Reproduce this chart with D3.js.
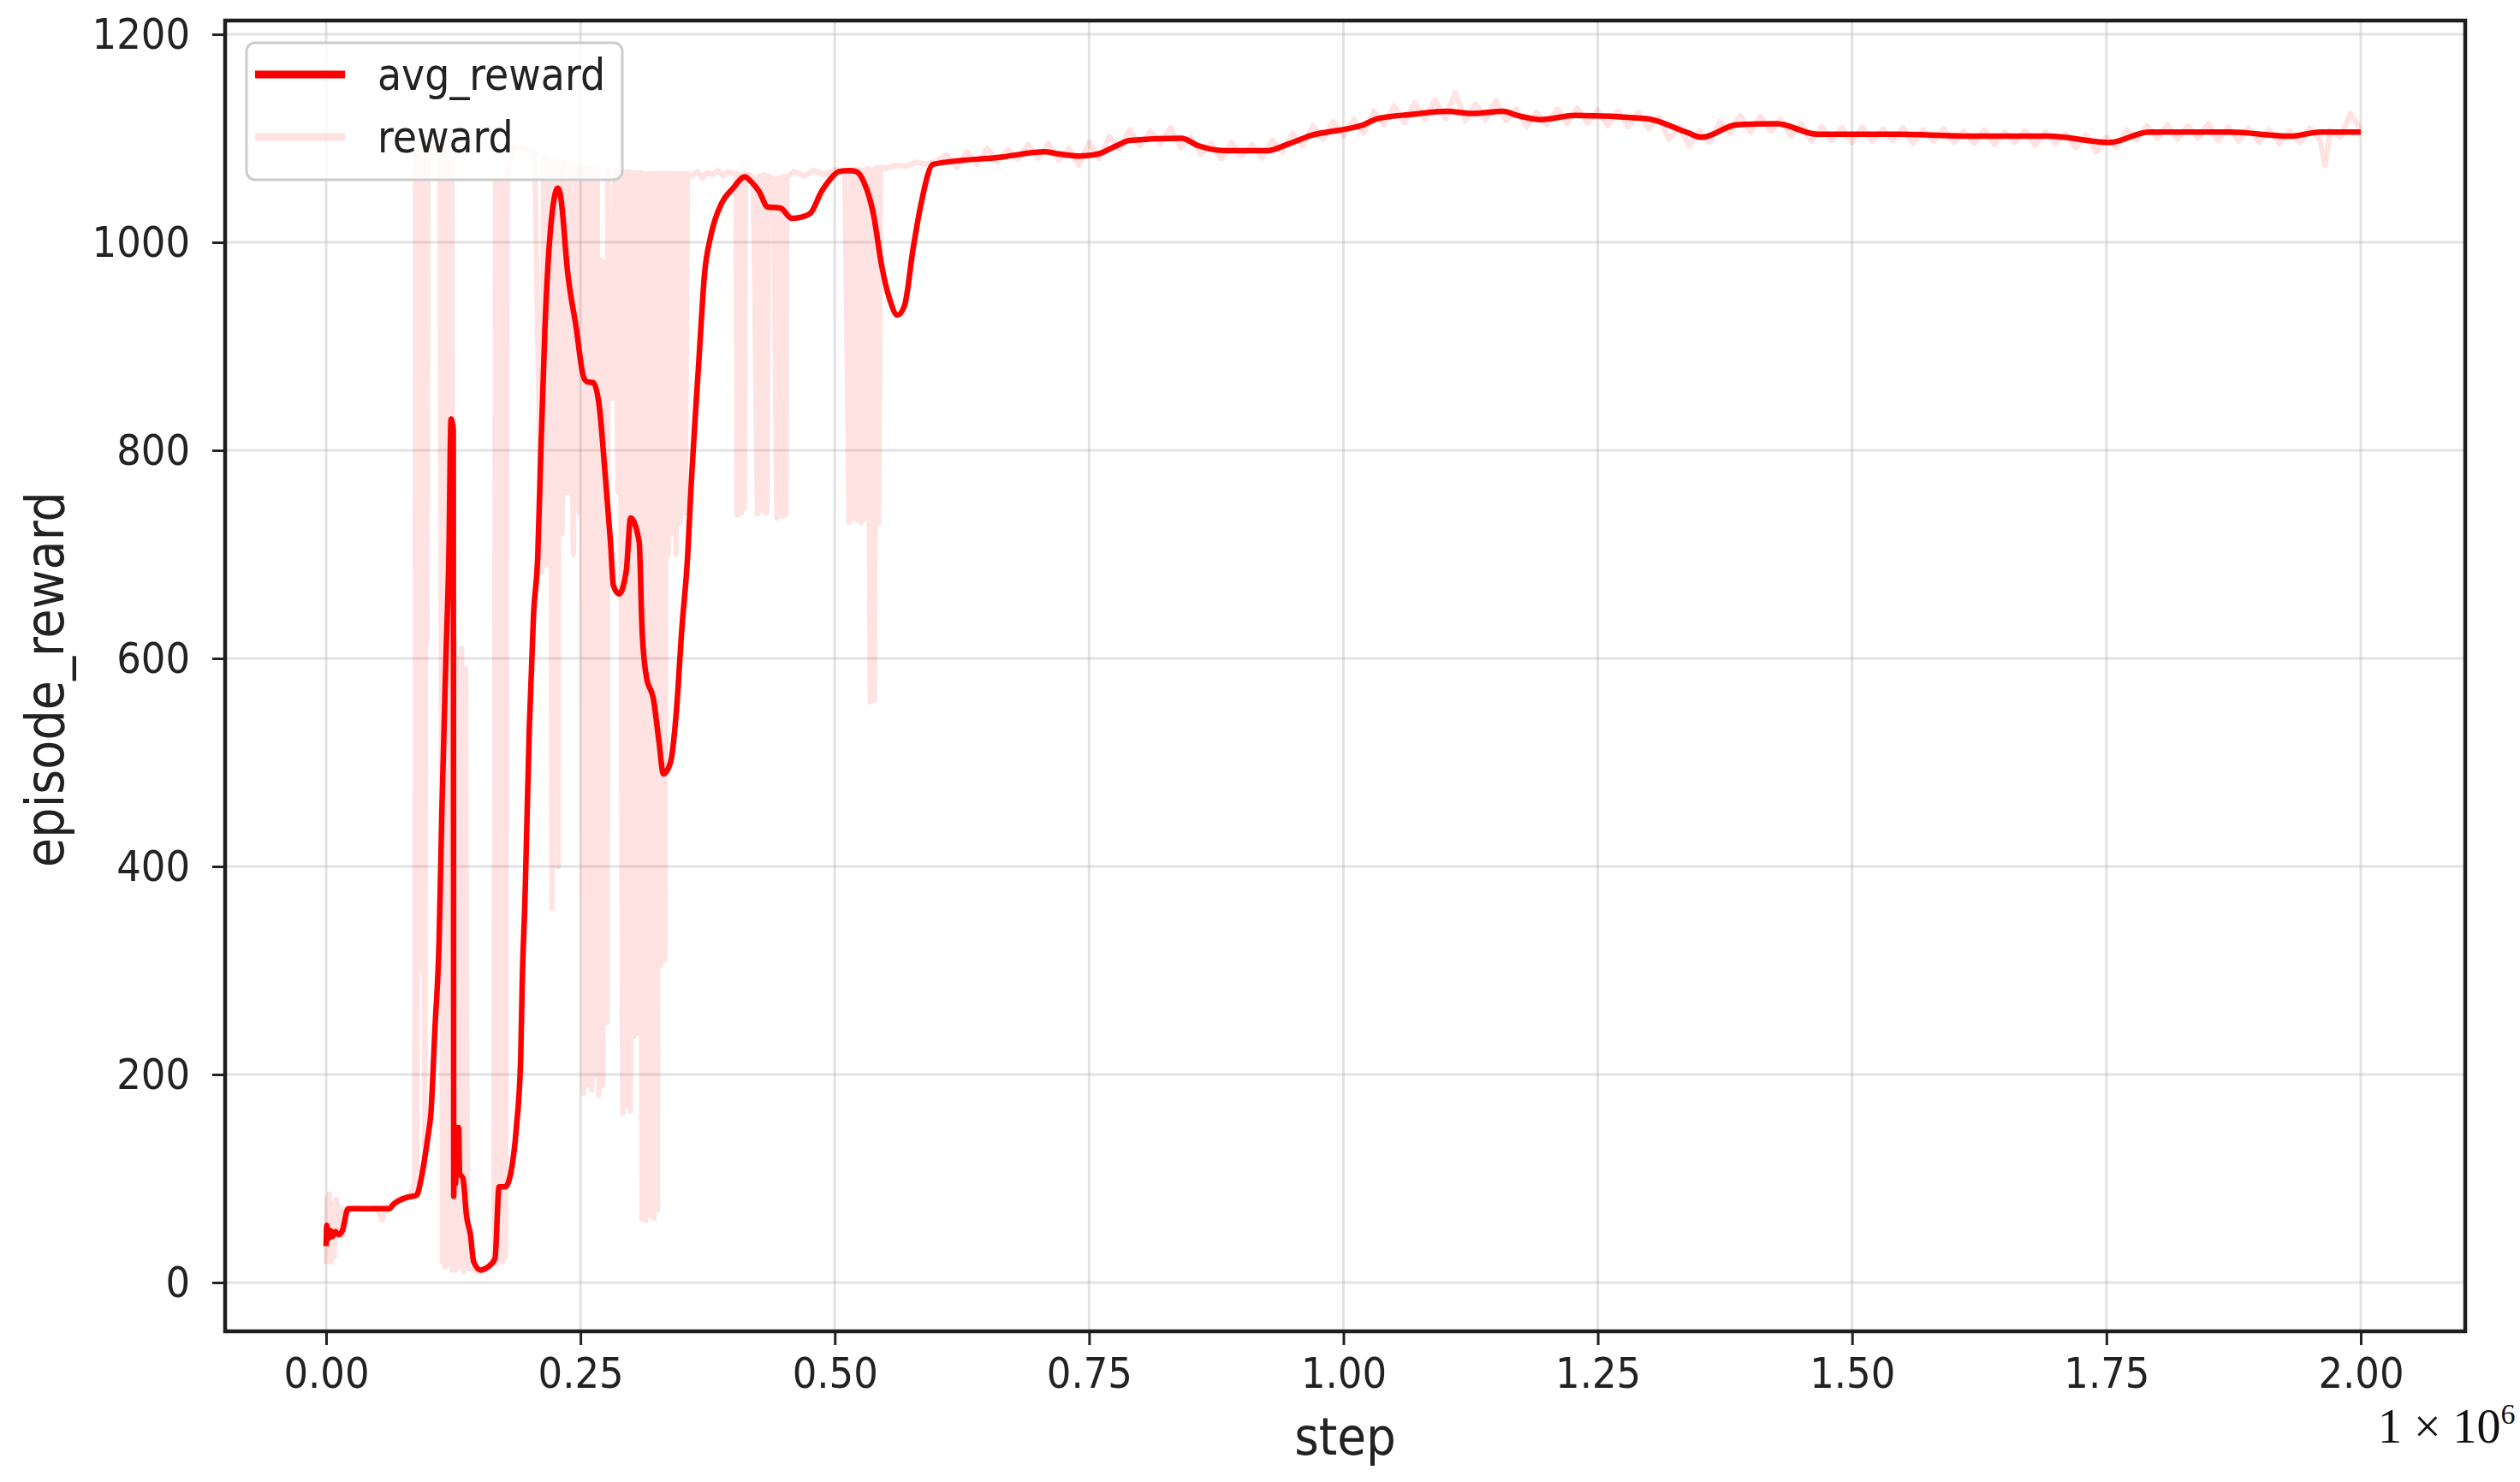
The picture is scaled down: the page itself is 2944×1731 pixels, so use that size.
<!DOCTYPE html>
<html>
<head>
<meta charset="utf-8">
<script src="https://cdn.jsdelivr.net/npm/d3@7"></script>
<style>
  html, body { margin: 0; padding: 0; background: #ffffff; }
  svg { display: block; }
  .cond { font-family: "DejaVu Sans Condensed", "DejaVu Sans", sans-serif; font-stretch: condensed; }
</style>
</head>
<body>
<svg id="chart" width="2944" height="1731"></svg>
<script>
// ---------------- data (step in units of 1e6) ----------------
const xTickValues = [0, 0.25, 0.5, 0.75, 1.0, 1.25, 1.5, 1.75, 2.0];
const yTickValues = [0, 200, 400, 600, 800, 1000, 1200];
const seriesNames = ["avg_reward", "reward"];
const xLabel = "step";
const yLabel = "episode_reward";

// smoothed reward: [step (x1e6), value]
const avgReward = [
  [0.000,35],[0.0006,55],[0.002,42],[0.004,50],[0.006,44],[0.009,49],[0.012,46],[0.016,50],
  [0.0216,71],[0.040,71],[0.0623,71],[0.066,75],[0.072,79],[0.080,82],[0.089,84],[0.093,98],
  [0.096,114],[0.100,140],[0.103,163],[0.107,245],[0.111,328],[0.1137,451],[0.1178,602],
  [0.1206,697],[0.1228,830],[0.1250,820],[0.1254,83],[0.1262,149],[0.1272,95],[0.1282,149],
  [0.1292,120],[0.1302,149],[0.1312,105],[0.1345,100],[0.138,64],[0.142,45],[0.145,20],
  [0.152,12],[0.159,15],[0.166,23],[0.170,92],[0.176,92],[0.182,108],[0.187,149],[0.1913,218],
  [0.1927,286],[0.1955,370],[0.1997,533],[0.2039,643],[0.208,698],[0.2109,794],[0.2151,918],
  [0.2206,1013],[0.2277,1052],[0.2305,1044],[0.2374,971],[0.2458,918],[0.2529,871],[0.2565,866],
  [0.2627,865],[0.2684,843],[0.274,780],[0.2795,712],[0.2824,670],[0.288,662],[0.295,684],
  [0.2993,735],[0.3077,712],[0.3105,629],[0.3147,583],[0.3217,561],[0.3273,519],[0.3315,489],
  [0.3385,500],[0.3441,547],[0.3497,629],[0.3553,698],[0.3581,753],[0.3665,888],[0.3721,971],
  [0.3778,1005],[0.389,1038],[0.400,1052],[0.4115,1063],[0.418,1058],[0.4255,1049],[0.434,1034],
  [0.4465,1033],[0.4577,1023],[0.466,1024],[0.476,1028],[0.487,1049],[0.495,1060],[0.504,1068],
  [0.514,1069],[0.521,1068],[0.529,1057],[0.538,1027],[0.546,978],[0.554,945],[0.5615,930],
  [0.5685,939],[0.577,994],[0.585,1038],[0.5966,1075],[0.664,1082],[0.706,1087],[0.72,1085],
  [0.74,1083],[0.759,1085],[0.775,1092],[0.79,1098],[0.8406,1100],[0.857,1093],[0.8855,1088],
  [0.9247,1088],[0.947,1095],[0.969,1103],[1.003,1109],[1.017,1112],[1.034,1119],[1.068,1123],
  [1.101,1126],[1.127,1124],[1.157,1126],[1.171,1122],[1.194,1118],[1.228,1122],[1.2976,1119],
  [1.337,1106],[1.352,1101],[1.3866,1113],[1.426,1114],[1.4657,1104],[1.545,1104],[1.624,1102],
  [1.6934,1102],[1.753,1096],[1.792,1106],[1.8715,1106],[1.931,1102],[1.96,1106],[2.0,1106]
];

// raw episode reward: [step (x1e6), value]
const episodeReward = [
  [0.000,18],[0.001,80],[0.002,30],[0.003,85],[0.004,40],[0.005,20],[0.006,75],[0.007,45],
  [0.008,25],[0.010,80],[0.012,50],[0.014,72],[0.016,45],[0.018,70],[0.020,68],[0.025,71],
  [0.030,72],[0.040,70],[0.050,72],[0.055,60],[0.058,72],[0.065,76],[0.070,80],[0.078,82],
  [0.084,86],[0.087,95],
  [0.088,1086],[0.089,108],[0.0905,1088],[0.0915,615],[0.093,1085],[0.094,300],[0.0955,1087],
  [0.097,110],[0.098,1084],[0.099,615],[0.100,1086],
  [0.104,1090],[0.108,1092],[0.112,1090],
  [0.1145,20],[0.1155,1090],[0.117,15],[0.118,1088],[0.1195,25],[0.121,1085],[0.122,18],
  [0.1235,1080],[0.124,12],
  [0.126,620],[0.127,12],[0.129,600],[0.131,15],[0.133,610],[0.135,11],[0.137,590],[0.139,14],
  [0.145,12],[0.150,10],[0.155,12],[0.160,15],[0.165,20],
  [0.1665,1057],[0.168,18],[0.1695,1060],[0.171,435],[0.172,1058],[0.1735,20],[0.175,1062],
  [0.1765,25],[0.178,1065],
  [0.185,1093],[0.195,1090],[0.205,1085],
  [0.212,683],[0.214,1082],[0.216,690],[0.218,1080],[0.2195,700],
  [0.221,1079],[0.222,360],[0.2235,1078],[0.225,700],[0.2265,1077],[0.228,400],[0.229,1076],
  [0.232,720],[0.234,1075],[0.237,760],[0.240,1074],[0.243,700],[0.246,1073],[0.249,740],[0.251,1072],
  [0.253,182],[0.255,1071],[0.257,190],[0.259,1071],[0.261,185],[0.263,1070],[0.265,200],
  [0.2665,1070],[0.268,180],[0.270,983],[0.272,190],[0.274,980],[0.276,250],[0.277,1070],
  [0.281,850],[0.284,1069],[0.287,760],[0.289,1068],
  [0.2915,163],[0.293,1068],[0.295,170],[0.297,1068],[0.299,165],[0.301,1067],
  [0.303,237],[0.305,1067],[0.307,240],[0.3085,1067],
  [0.3105,61],[0.312,1066],[0.314,60],[0.316,1066],[0.318,65],[0.320,1066],[0.322,62],
  [0.324,1066],[0.3255,70],
  [0.327,1066],[0.329,305],[0.331,1066],[0.333,310],[0.3345,1066],
  [0.336,700],[0.338,1066],[0.340,720],[0.342,1066],[0.344,700],[0.346,1066],[0.348,730],
  [0.350,1066],[0.353,740],[0.355,1066],
  [0.360,1064],[0.365,1068],[0.370,1062],[0.375,1067],[0.380,1065],[0.385,1069],[0.390,1064],
  [0.395,1068],[0.400,1066],
  [0.403,1066],[0.404,738],[0.406,1065],[0.408,740],[0.410,1064],[0.411,745],[0.412,1066],
  [0.420,1063],[0.424,739],[0.426,1064],[0.428,742],[0.430,1065],[0.433,740],[0.435,1064],
  [0.440,1060],[0.443,735],[0.445,1062],[0.448,737],[0.450,1063],[0.452,738],[0.453,1063],
  [0.460,1068],[0.470,1064],[0.480,1069],[0.490,1065],[0.500,1070],[0.510,1068],
  [0.514,731],[0.516,1069],[0.518,735],[0.520,1070],[0.522,733],[0.524,1070],[0.526,731],
  [0.528,1069],[0.530,734],[0.532,1071],[0.535,558],[0.537,1070],[0.539,560],[0.541,1072],
  [0.543,730],[0.545,1072],
  [0.550,1071],[0.560,1074],[0.570,1073],[0.580,1077],[0.590,1075],[0.600,1078],
  [0.61,1084],[0.62,1072],[0.63,1087],[0.64,1075],[0.65,1090],[0.66,1077],[0.67,1089],[0.68,1080],
  [0.69,1094],[0.70,1081],[0.71,1095],[0.72,1079],[0.73,1090],[0.74,1074],[0.75,1096],[0.76,1080],
  [0.77,1102],[0.78,1089],[0.79,1108],[0.80,1093],[0.81,1107],[0.82,1095],[0.83,1110],[0.84,1091],
  [0.85,1101],[0.86,1085],[0.87,1095],[0.88,1080],[0.89,1096],[0.90,1083],[0.91,1094],[0.92,1081],
  [0.93,1098],[0.94,1087],[0.95,1105],[0.96,1093],[0.97,1112],[0.98,1099],[0.99,1116],[1.00,1102],
  [1.01,1118],[1.02,1105],[1.03,1126],[1.04,1113],[1.05,1131],[1.06,1115],[1.07,1134],[1.08,1118],
  [1.09,1137],[1.10,1119],[1.11,1144],[1.12,1117],[1.13,1133],[1.14,1118],[1.15,1136],[1.16,1117],
  [1.17,1128],[1.18,1111],[1.19,1125],[1.20,1113],[1.21,1128],[1.22,1114],[1.23,1129],[1.24,1115],
  [1.25,1127],[1.26,1112],[1.27,1126],[1.28,1111],[1.29,1125],[1.30,1109],[1.31,1120],[1.32,1099],
  [1.33,1111],[1.34,1093],[1.35,1107],[1.36,1096],[1.37,1116],[1.38,1105],[1.39,1122],[1.40,1106],
  [1.41,1121],[1.42,1107],[1.43,1118],[1.44,1102],[1.45,1114],[1.46,1097],[1.47,1111],[1.48,1098],
  [1.49,1110],[1.50,1096],[1.51,1111],[1.52,1097],[1.53,1109],[1.54,1098],[1.55,1110],[1.56,1095],
  [1.57,1108],[1.58,1097],[1.59,1109],[1.60,1096],[1.61,1107],[1.62,1095],[1.63,1108],[1.64,1094],
  [1.65,1106],[1.66,1096],[1.67,1107],[1.68,1093],[1.69,1106],[1.70,1095],[1.71,1104],[1.72,1091],
  [1.73,1103],[1.74,1087],[1.75,1101],[1.76,1091],[1.77,1108],[1.78,1098],[1.79,1112],[1.80,1100],
  [1.81,1113],[1.82,1099],[1.83,1112],[1.84,1100],[1.85,1114],[1.86,1098],[1.87,1111],[1.88,1097],
  [1.89,1110],[1.90,1096],[1.91,1108],[1.92,1095],[1.93,1107],[1.94,1096],[1.95,1110],[1.96,1098],
  [1.965,1074],[1.97,1108],[1.98,1101],[1.99,1124],[2.00,1108]
];

// ---------------- layout ----------------
const plot = { left: 263, right: 2880, top: 24, bottom: 1555 };

const svg = d3.select("#chart");

const x = d3.scaleLinear().domain([-0.0993, 2.1027]).range([plot.left, plot.right]);
const y = d3.scaleLinear().domain([-46.9, 1213.2]).range([plot.bottom, plot.top]);

// grid
const grid = svg.append("g");
grid.selectAll("line.vg").data(xTickValues).join("line")
  .attr("x1", d => x(d)).attr("x2", d => x(d))
  .attr("y1", plot.top).attr("y2", plot.bottom)
  .attr("stroke", "#b0b0b0").attr("stroke-opacity", 0.35).attr("stroke-width", 3);
grid.selectAll("line.hg").data(yTickValues).join("line")
  .attr("x1", plot.left).attr("x2", plot.right)
  .attr("y1", d => y(d)).attr("y2", d => y(d))
  .attr("stroke", "#b0b0b0").attr("stroke-opacity", 0.35).attr("stroke-width", 3);

// clip
svg.append("clipPath").attr("id", "clip").append("rect")
  .attr("x", plot.left).attr("y", plot.top)
  .attr("width", plot.right - plot.left).attr("height", plot.bottom - plot.top);

const lineLinear = d3.line().x(d => x(d[0])).y(d => y(d[1]));
const lineSmooth = d3.line().x(d => x(d[0])).y(d => y(d[1])).curve(d3.curveMonotoneX);

const lines = svg.append("g").attr("clip-path", "url(#clip)");
lines.append("path").datum(episodeReward)
  .attr("d", lineLinear)
  .attr("fill", "none").attr("stroke", "#ff0000").attr("stroke-opacity", 0.11)
  .attr("stroke-width", 6.5).attr("stroke-linejoin", "round");
lines.append("path").datum(avgReward)
  .attr("d", lineSmooth)
  .attr("fill", "none").attr("stroke", "#ff0000")
  .attr("stroke-width", 6.5).attr("stroke-linejoin", "round");

// axes
const xAxis = d3.axisBottom(x).tickValues(xTickValues).tickFormat(d3.format(".2f"))
  .tickSize(16).tickPadding(14);
const yAxis = d3.axisLeft(y).tickValues(yTickValues).tickFormat(d3.format("d"))
  .tickSize(15).tickPadding(26);

const gx = svg.append("g").attr("transform", `translate(0,${plot.bottom})`).call(xAxis);
const gy = svg.append("g").attr("transform", `translate(${plot.left},0)`).call(yAxis);
[gx, gy].forEach(g => {
  g.select(".domain").remove();
  g.selectAll(".tick line").attr("stroke", "#222").attr("stroke-width", 3);
  g.selectAll(".tick text").attr("class", "cond").attr("fill", "#222")
    .style("font-size", "50px");
});

// spines
svg.append("rect")
  .attr("x", plot.left).attr("y", plot.top)
  .attr("width", plot.right - plot.left).attr("height", plot.bottom - plot.top)
  .attr("fill", "none").attr("stroke", "#1e1e1e").attr("stroke-width", 4.5);

// axis labels
svg.append("text").attr("class", "cond")
  .attr("x", (plot.left + plot.right) / 2).attr("y", 1699)
  .attr("text-anchor", "middle").attr("fill", "#222")
  .style("font-size", "61px").text(xLabel);

svg.append("text").attr("class", "cond")
  .attr("transform", `translate(74,${(plot.top + plot.bottom) / 2 + 4}) rotate(-90)`)
  .attr("text-anchor", "middle").attr("fill", "#222")
  .style("font-size", "62px").text(yLabel);

// offset label
const off = svg.append("text")
  .attr("x", 2778).attr("y", 1685)
  .attr("fill", "#111")
  .style("font-family", "'Liberation Serif', 'DejaVu Serif', serif")
  .style("font-size", "56px");
off.append("tspan").text("1 \u00d7 10");
off.append("tspan").attr("dy", -22).style("font-size", "34px").text("6");

// legend
const leg = svg.append("g");
leg.append("rect")
  .attr("x", 288).attr("y", 50).attr("width", 439).attr("height", 160).attr("rx", 10)
  .attr("fill", "#ffffff").attr("fill-opacity", 0.8)
  .attr("stroke", "#cccccc").attr("stroke-width", 3);
const legItems = [
  { name: seriesNames[0], opacity: 1, cy: 87 },
  { name: seriesNames[1], opacity: 0.11, cy: 160 }
];
legItems.forEach(it => {
  leg.append("line").attr("x1", 298).attr("x2", 403).attr("y1", it.cy).attr("y2", it.cy)
    .attr("stroke", "#ff0000").attr("stroke-opacity", it.opacity).attr("stroke-width", 9);
  leg.append("text").attr("class", "cond")
    .attr("x", 441).attr("y", it.cy).attr("dy", "0.35em")
    .attr("fill", "#222").style("font-size", "51px").text(it.name);
});
</script>
</body>
</html>
